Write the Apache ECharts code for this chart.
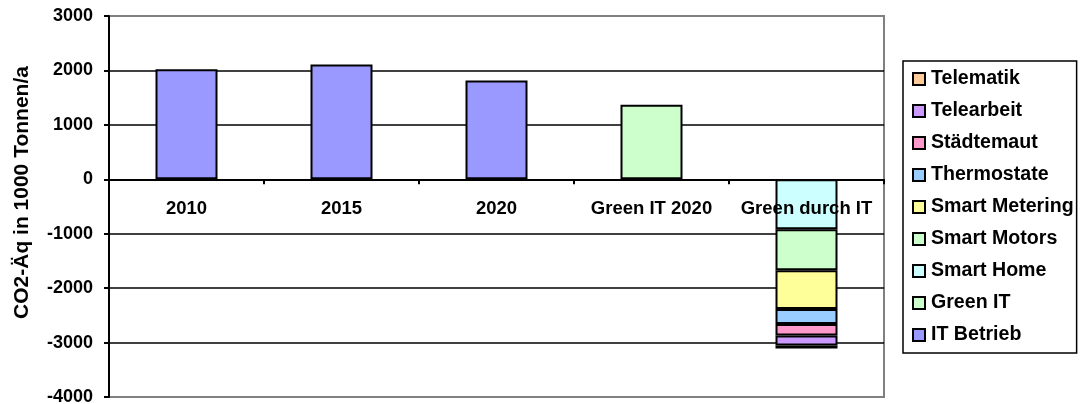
<!DOCTYPE html>
<html>
<head>
<meta charset="utf-8">
<script src="https://cdn.jsdelivr.net/npm/echarts@6/dist/echarts.min.js"></script>
<style>html,body{margin:0;padding:0;background:#fff;}#c{width:1080px;height:404px;}</style>
</head>
<body>
<div id="c"></div>
<script>
const categories = ['2010', '2015', '2020', 'Green IT 2020', 'Green durch IT'];
const itBetrieb     = [2020, 2110, 1815, '-', '-'];
const greenIT       = ['-', '-', '-', 1370, '-'];
const smartHome     = ['-', '-', '-', '-', -920];
const smartMotors   = ['-', '-', '-', '-', -750];
const smartMetering = ['-', '-', '-', '-', -715];
const thermostate   = ['-', '-', '-', '-', -275];
const staedtemaut   = ['-', '-', '-', '-', -210];
const telearbeit    = ['-', '-', '-', '-', -185];
const telematik     = ['-', '-', '-', '-', -55];
const yTicks = [-4000, -3000, -2000, -1000, 0, 1000, 2000, 3000];

const seriesDefs = [
  ['IT Betrieb', itBetrieb, '#9999FF'],
  ['Green IT', greenIT, '#CCFFCC'],
  ['Smart Home', smartHome, '#CCFFFF'],
  ['Smart Motors', smartMotors, '#CCFFCC'],
  ['Smart Metering', smartMetering, '#FFFF99'],
  ['Thermostate', thermostate, '#99CCFF'],
  ['Städtemaut', staedtemaut, '#FF99CC'],
  ['Telearbeit', telearbeit, '#CC99FF'],
  ['Telematik', telematik, '#FFCC99']
];

const font = 'Liberation Sans, Arial, Helvetica, sans-serif';
const gridTop = 16, gridBottom = 7, H = 404;
const yMin = yTicks[0], yMax = yTicks[yTicks.length - 1];
const zeroOffset = -((H - gridBottom - gridTop) * (0 - yMin) / (yMax - yMin));

const chart = echarts.init(document.getElementById('c'), null, {renderer: 'canvas'});
chart.setOption({
  animation: false,
  backgroundColor: '#fff',
  grid: {left: 109, right: 196, top: gridTop, bottom: gridBottom, outerBoundsMode: 'none', containLabel: false,
         show: true, borderColor: '#808080', borderWidth: 2, backgroundColor: 'transparent'},
  legend: {
    orient: 'vertical', left: 903, top: 61,
    data: seriesDefs.map(s => s[0]).reverse(),
    itemWidth: 12, itemHeight: 12, itemGap: 12,
    padding: [8, 3, 8, 9],
    borderColor: '#000', borderWidth: 1.5,
    icon: 'rect',
    textStyle: {fontFamily: font, fontWeight: 'bold', fontSize: 19.6, color: '#000', lineHeight: 20, padding: [0, 0, 0, 1]}
  },
  xAxis: {
    type: 'category', data: categories,
    offset: zeroOffset, z: 5,
    axisLine: {onZero: false, lineStyle: {color: '#000', width: 2}},
    axisTick: {show: true, length: 5, lineStyle: {color: '#000', width: 2}},
    axisLabel: {fontFamily: font, fontWeight: 'bold', fontSize: 18.5, color: '#000', margin: 20, interval: 0},
    splitLine: {show: false}
  },
  yAxis: {
    type: 'value', min: yMin, max: yMax, interval: 1000,
    name: 'CO2-Äq in 1000 Tonnen/a', nameLocation: 'middle', nameGap: 76,
    nameTextStyle: {fontFamily: font, fontWeight: 'bold', fontSize: 21, color: '#000', padding: [0, 0, 0, 28]},
    axisLine: {show: true, lineStyle: {color: '#000', width: 2}},
    axisTick: {show: true, length: 5, lineStyle: {color: '#000', width: 2}},
    axisLabel: {fontFamily: font, fontWeight: 'bold', fontSize: 18, color: '#000', margin: 16, formatter: v => String(v)},
    splitLine: {show: true, lineStyle: {color: ['#808080', '#000', '#000', '#000', '#000', '#000', '#000', '#808080'], width: 1.6}}
  },
  series: seriesDefs.map(s => ({
    name: s[0], type: 'bar', stack: 'total', data: s[1], barWidth: '40%',
    itemStyle: {color: s[2], borderColor: '#000', borderWidth: 2}
  }))
});
</script>
</body>
</html>
